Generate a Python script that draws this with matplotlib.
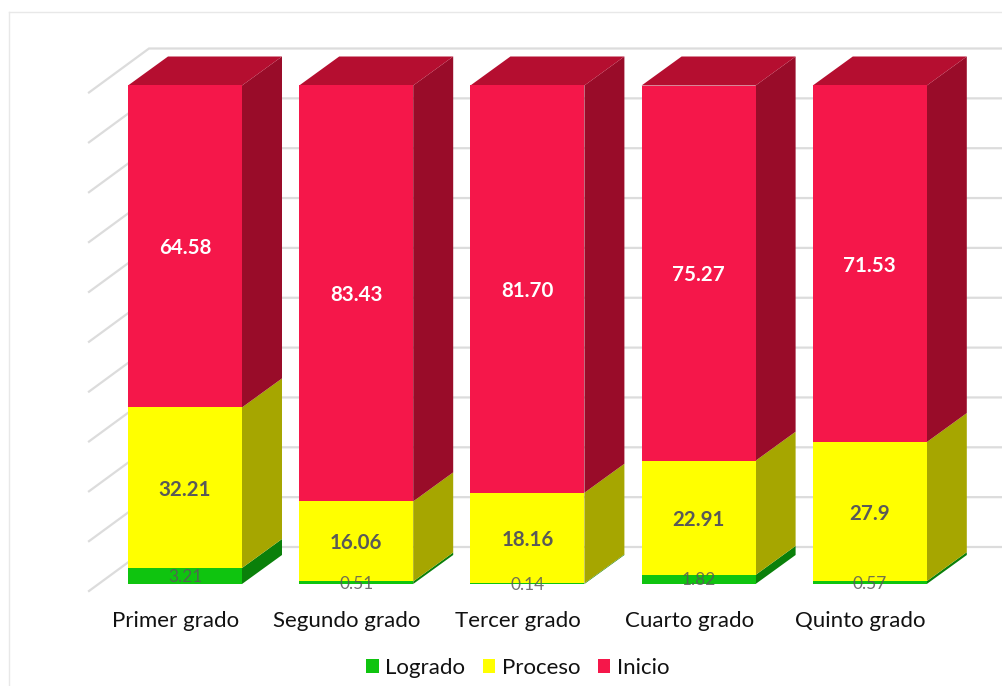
import matplotlib
matplotlib.use("Agg")
import matplotlib.pyplot as plt
from matplotlib.patches import Polygon
import numpy as np

plt.rcParams['font.family'] = ['Lato', 'DejaVu Sans']

grados = ['Primer grado', 'Segundo grado', 'Tercer grado', 'Cuarto grado', 'Quinto grado']
logrado = [3.21, 0.51, 0.14, 1.82, 0.57]
proceso = [32.21, 16.06, 18.16, 22.91, 27.9]
inicio = [64.58, 83.43, 81.70, 75.27, 71.53]
texto_proceso = ['32.21', '16.06', '18.16', '22.91', '27.9']
ticks_y = np.arange(0, 101, 10)

W, H = 1002, 686
PX_X = 171.2   # px per category
PX_Y = 4.985   # px per percent point
X0, Y0 = 185.0, 584.0  # pixel of category 0, value 0
LEFT, TOP = 9, 12


def ux(px):
    return px / PX_X


def uy(px):
    return px / PX_Y


fig = plt.figure(figsize=(W / 100, H / 100), dpi=100, facecolor='white')
ax = fig.add_axes([LEFT / W, 0, 1 - LEFT / W, 1 - TOP / H])
ax.set_xlim((LEFT - X0) / PX_X, (W - X0) / PX_X)
ax.set_ylim((Y0 - H) / PX_Y, (Y0 - TOP) / PX_Y)
ax.set_xticks([])
ax.set_yticks([])
ax.spines['right'].set_visible(False)
ax.spines['bottom'].set_visible(False)
for s in ['left', 'top']:
    ax.spines[s].set_color('#E8E8E8')
    ax.spines[s].set_linewidth(1)

# grid on the back wall and the left wall
x_izq, x_fondo = ux(89 - X0), ux(149 - X0)
for v in ticks_y:
    y_fondo = v + uy(37)
    y_izq = v - uy(7)
    ax.plot([x_izq, x_fondo, ux(W - X0)], [y_izq, y_fondo, y_fondo],
            color='#DCDCDC', lw=1.6, zorder=1, solid_joinstyle='miter')

x = np.arange(len(grados))
ancho = 114 / PX_X
dx, dy = ux(40), uy(29)

series = [
    ('Logrado', logrado, '#0FC40F', '#0A800A'),
    ('Proceso', proceso, '#FFFF00', '#A6A600'),
    ('Inicio', inicio, '#F5174A', '#990C29'),
]

base = np.zeros(len(grados))
barras = []
for nombre, vals, color, lado in series:
    vals = np.array(vals)
    b = ax.bar(x, vals, ancho, bottom=base, color=color, label=nombre, zorder=3)
    barras.append(b)
    for xi, b0, v in zip(x, base, vals):
        x1 = xi + ancho / 2
        ax.add_patch(Polygon([(x1, b0), (x1 + dx, b0 + dy), (x1 + dx, b0 + v + dy), (x1, b0 + v)],
                             facecolor=lado, edgecolor='none', zorder=2))
    base = base + vals

# top faces
for xi, t in zip(x, base):
    x0 = xi - ancho / 2
    ax.add_patch(Polygon([(x0, t), (x0 + dx, t + dy), (x0 + ancho + dx, t + dy), (x0 + ancho, t)],
                         facecolor='#B50E30', edgecolor='none', zorder=2))

# data labels, nudged down to sit like the original
baja = uy(2)
for i in x:
    ax.text(i, logrado[i] / 2 - baja / 2, f'{logrado[i]:.2f}', ha='center', va='center',
            fontsize=12.5, color='#595959', alpha=0.85, zorder=5)
    ax.text(i, logrado[i] + proceso[i] / 2 - baja, texto_proceso[i], ha='center', va='center',
            fontsize=14.8, fontweight='bold', color='#595959', zorder=5)
    ax.text(i, logrado[i] + proceso[i] + inicio[i] / 2 - baja, f'{inicio[i]:.2f}', ha='center', va='center',
            fontsize=14.8, fontweight='bold', color='white', zorder=5)
    ax.text(i - ux(9.5), uy(Y0 - 621), grados[i], ha='center', va='center',
            fontsize=16, color='#111111', zorder=5)

ax.legend(handles=barras, labels=[s[0] for s in series], ncol=3, loc='center',
          bbox_to_anchor=((518 - LEFT) / (W - LEFT), (H - 668) / (H - TOP)),
          frameon=False, fontsize=16, handlelength=0.55, handleheight=0.55,
          handletextpad=0.3, columnspacing=0.8, labelcolor='#111111')

plt.savefig('out.png', dpi=100)
